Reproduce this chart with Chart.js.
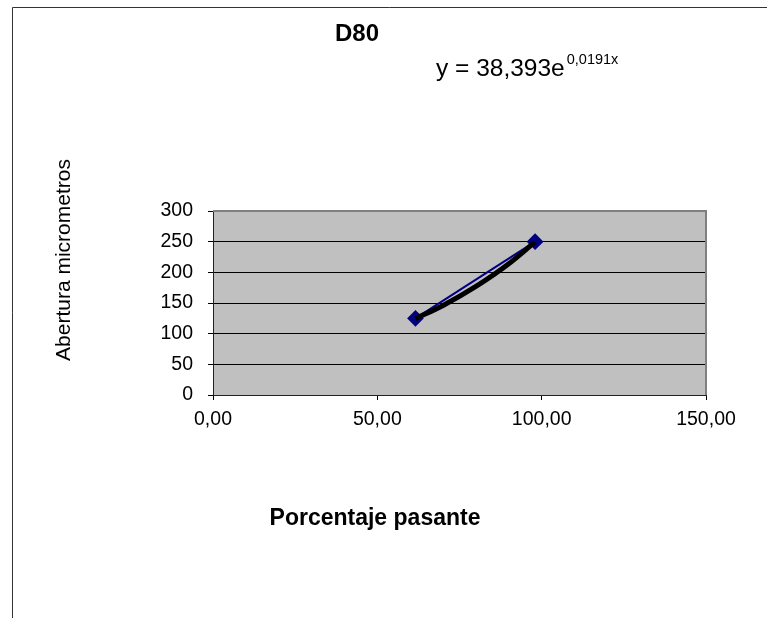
<!DOCTYPE html>
<html>
<head>
<meta charset="utf-8">
<script src="https://cdn.jsdelivr.net/npm/chart.js@4.4.0/dist/chart.umd.min.js"></script>
<style>
  body { margin: 0; background: #fff; }
  #wrap { width: 767px; height: 618px; }
</style>
</head>
<body>
<div id="wrap"><canvas id="chart-d80" width="767" height="618"></canvas></div>
<script>
// puntos medidos
const pasante = [61.6, 98.0];
const abertura = [125, 250];

// linea de tendencia exponencial (puntos de la curva)
const tendX = [61.6, 70, 80, 90, 98];
const tendY = [124.5, 146, 177, 214, 249.6];

const xTicks = [0, 50, 100, 150];
const yTicks = [0, 50, 100, 150, 200, 250, 300];

const titulo = 'D80';
const ecuacion = 'y = 38,393e';
const exponente = '0,0191x';
const tituloX = 'Porcentaje pasante';
const tituloY = 'Abertura micrometros';
const FONT = '"Liberation Sans", Arial, sans-serif';

function formatNum(v) { return v.toFixed(2).replace('.', ','); }

// fondo gris, borde del area y textos
const decoraciones = {
    id: 'decoraciones',
    beforeDraw(chart) {
        const { ctx, chartArea: a } = chart;
        ctx.save();
        ctx.fillStyle = '#c0c0c0';
        ctx.fillRect(a.left, a.top, a.right - a.left, a.bottom - a.top);
        ctx.restore();
    },
    beforeDatasetsDraw(chart) {
        const { ctx, chartArea: a } = chart;
        ctx.save();
        ctx.strokeStyle = '#808080';
        ctx.lineWidth = 2;
        ctx.beginPath();
        ctx.moveTo(a.left, a.top);
        ctx.lineTo(a.right, a.top);
        ctx.lineTo(a.right, a.bottom);
        ctx.stroke();
        ctx.restore();
    },
    afterDraw(chart) {
        const ctx = chart.ctx;
        ctx.save();
        // marco exterior
        ctx.strokeStyle = '#333';
        ctx.lineWidth = 1;
        ctx.beginPath();
        ctx.moveTo(12.5, 618);
        ctx.lineTo(12.5, 7.5);
        ctx.lineTo(767, 7.5);
        ctx.stroke();

        ctx.fillStyle = '#000';
        ctx.textBaseline = 'alphabetic';
        ctx.textAlign = 'center';
        ctx.font = 'bold 24px ' + FONT;
        ctx.fillText(titulo, 357, 41);
        ctx.font = 'bold 23px ' + FONT;
        ctx.fillText(tituloX, 375, 525);

        ctx.textAlign = 'left';
        ctx.font = '24.5px ' + FONT;
        ctx.fillText(ecuacion, 436, 76);
        const w = ctx.measureText(ecuacion).width;
        ctx.font = '14.5px ' + FONT;
        ctx.fillText(exponente, 436 + w + 2, 64);

        ctx.translate(70, 260);
        ctx.rotate(-Math.PI / 2);
        ctx.textAlign = 'center';
        ctx.font = '21px ' + FONT;
        ctx.fillText(tituloY, 0, 0);
        ctx.restore();
    }
};

const tickFont = { family: FONT, size: 19.5 };

new Chart(document.getElementById('chart-d80').getContext('2d'), {
    type: 'scatter',
    data: {
        datasets: [
            {
                label: 'Tendencia',
                data: tendX.map((x, i) => ({ x, y: tendY[i] })),
                showLine: true,
                borderColor: '#000',
                borderWidth: 5,
                pointRadius: 0,
                cubicInterpolationMode: 'monotone',
                order: 0
            },
            {
                label: titulo,
                data: pasante.map((x, i) => ({ x, y: abertura[i] })),
                showLine: true,
                borderColor: '#000080',
                backgroundColor: '#000080',
                borderWidth: 2,
                pointStyle: 'rectRot',
                pointRadius: 7,
                order: 1
            }
        ]
    },
    options: {
        responsive: false,
        animation: false,
        layout: { padding: { left: 0, right: 61, top: 211, bottom: 0 } },
        plugins: { legend: { display: false }, tooltip: { enabled: false } },
        scales: {
            x: {
                type: 'linear', min: 0, max: 150,
                afterBuildTicks: s => { s.ticks = xTicks.map(v => ({ value: v })); },
                afterFit: s => { s.height = 223; },
                ticks: { callback: v => formatNum(v), font: tickFont, color: '#000', padding: 8, maxRotation: 0 },
                grid: { drawOnChartArea: false, drawTicks: true, tickLength: 5, color: '#000' },
                border: { color: '#222', width: 1 }
            },
            y: {
                min: 0, max: 300,
                afterBuildTicks: s => { s.ticks = yTicks.map(v => ({ value: v })); },
                afterFit: s => { s.width = 213; },
                ticks: { font: tickFont, color: '#000', padding: 15 },
                grid: { color: '#000', tickLength: 5 },
                border: { color: '#222', width: 1 }
            }
        }
    },
    plugins: [decoraciones]
});
</script>
</body>
</html>
